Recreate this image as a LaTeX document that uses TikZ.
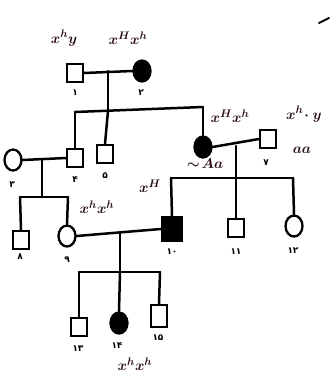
\documentclass[tikz,border=0pt]{standalone}
\usepackage{fontspec}
\usetikzlibrary{shapes.geometric}
\newfontfamily\arabicfont[Script=Arabic]{DejaVu Sans}
\definecolor{hw}{RGB}{45,15,28}
\tikzset{
 lin/.style={line width=2.5pt, line cap=round},
 male/.style={draw, rectangle, minimum width=16pt, minimum height=18pt, line width=2.3pt, inner sep=0pt},
 female/.style={draw, ellipse, minimum width=17pt, minimum height=21pt, line width=2.3pt, inner sep=0pt},
 aff/.style={fill=black},
 num/.style={font=\arabicfont\bfseries\fontsize{9}{9}\selectfont, inner sep=0pt},
 hand/.style={text=hw, font=\boldmath\fontsize{15}{15}\selectfont, inner sep=0pt}
}
\begin{document}
\begin{tikzpicture}[x=1pt,y=-1pt]
\useasboundingbox (0,0) rectangle (336,383);
\fill[white] (0,0) rectangle (336,383);
% individuals
\node[male] (p1) at (75,73) {};
\node[female,aff] (p2) at (142,71) {};
\node[female] (p3) at (13,160) {};
\node[male] (p4) at (75,158) {};
\node[male] (p5) at (105,154) {};
\node[female,aff] (p6) at (203,147) {};
\node[male] (p7) at (268,139) {};
\node[male] (p8) at (21,240) {};
\node[female] (p9) at (67,236) {};
\node[male,aff,minimum width=20pt,minimum height=24pt] (p10) at (172,229) {};
\node[male] (p11) at (236,228) {};
\node[female] (p12) at (294,226) {};
\node[male] (p13) at (79,327) {};
\node[female,aff] (p14) at (119,323) {};
\node[male,minimum height=22pt] (p15) at (159,316) {};
% numbers
\node[num] (n1) at (75,93) {۱};
\node[num] (n2) at (141,93) {۲};
\node[num] (n3) at (12,185) {۳};
\node[num] (n4) at (75,180) {۴};
\node[num] (n5) at (105,176) {۵};
\node[num] (n7) at (266,163) {۷};
\node[num] (n8) at (20,257) {۸};
\node[num] (n9) at (67,260) {۹};
\node[num] (n10) at (172,252) {۱۰};
\node[num] (n11) at (236,252) {۱۱};
\node[num] (n12) at (293,251) {۱۲};
\node[num] (n13) at (78,349) {۱۳};
\node[num] (n14) at (117,346) {۱۴};
\node[num] (n15) at (158,338) {۱۵};
% junction coordinates
\coordinate (d12) at (108,71);
\coordinate (s1a) at (75,112);
\coordinate (s1b) at (108,111);
\coordinate (s1c) at (203,107);
\coordinate (d34) at (42,160);
\coordinate (s2m) at (42,197);
\coordinate (s2a) at (20,197);
\coordinate (s2b) at (68,197);
\coordinate (d67) at (236,146);
\coordinate (s3a) at (171,178);
\coordinate (s3m) at (236,178);
\coordinate (s3b) at (293,178);
\coordinate (d910) at (120,234);
\coordinate (s4a) at (79,272);
\coordinate (s4m) at (120,272);
\coordinate (s4b) at (160,272);
% connectors
\draw[lin] (p1.east) -- (p2.west);
\draw[lin] (d12) -- (s1b);
\draw[lin] (s1a) -- (s1c);
\draw[lin] (s1a) -- (p4.north);
\draw[lin] (s1b) -- (p5.north);
\draw[lin] (s1c) -- (p6.north);
\draw[lin] (p3.east) -- (p4.west);
\draw[lin] (d34) -- (s2m);
\draw[lin] (s2a) -- (s2b);
\draw[lin] (s2a) -- (p8.north);
\draw[lin] (s2b) -- (p9.north);
\draw[lin] (p6.east) -- (p7.west);
\draw[lin] (d67) -- (s3m);
\draw[lin] (s3a) -- (s3b);
\draw[lin] (s3a) -- (p10.north);
\draw[lin] (s3m) -- (p11.north);
\draw[lin] (s3b) -- (p12.north);
\draw[lin] (p9.east) -- (p10.west);
\draw[lin] (d910) -- (s4m);
\draw[lin] (s4a) -- (s4b);
\draw[lin] (s4a) -- (p13.north);
\draw[lin] (s4m) -- (p14.north);
\draw[lin] (s4b) -- (p15.north);
% handwritten genotypes
\node[hand] (g1) at (64,38) {$x^{h}y$};
\node[hand] (g2) at (128,38) {$x^{H}x^{h}$};
\node[hand] (g6) at (230,116) {$x^{H}x^{h}$};
\node[hand] (g7) at (304,114) {$x^{h}\!\cdot y$};
\node[hand] (a7) at (302,150) {$aa$};
\node[hand] (a6) at (205,164) {$\sim\!Aa$};
\node[hand] (g9) at (97,207) {$x^{h}x^{h}$};
\node[hand] (g10) at (150,186) {$x^{H}$};
\node[hand] (g14) at (135,364) {$x^{h}x^{h}$};
\coordinate (m1) at (319,23);
\coordinate (m2) at (329,18);
\draw[line width=1.8pt, line cap=round] (m1) -- (m2);
\end{tikzpicture}
\end{document}
